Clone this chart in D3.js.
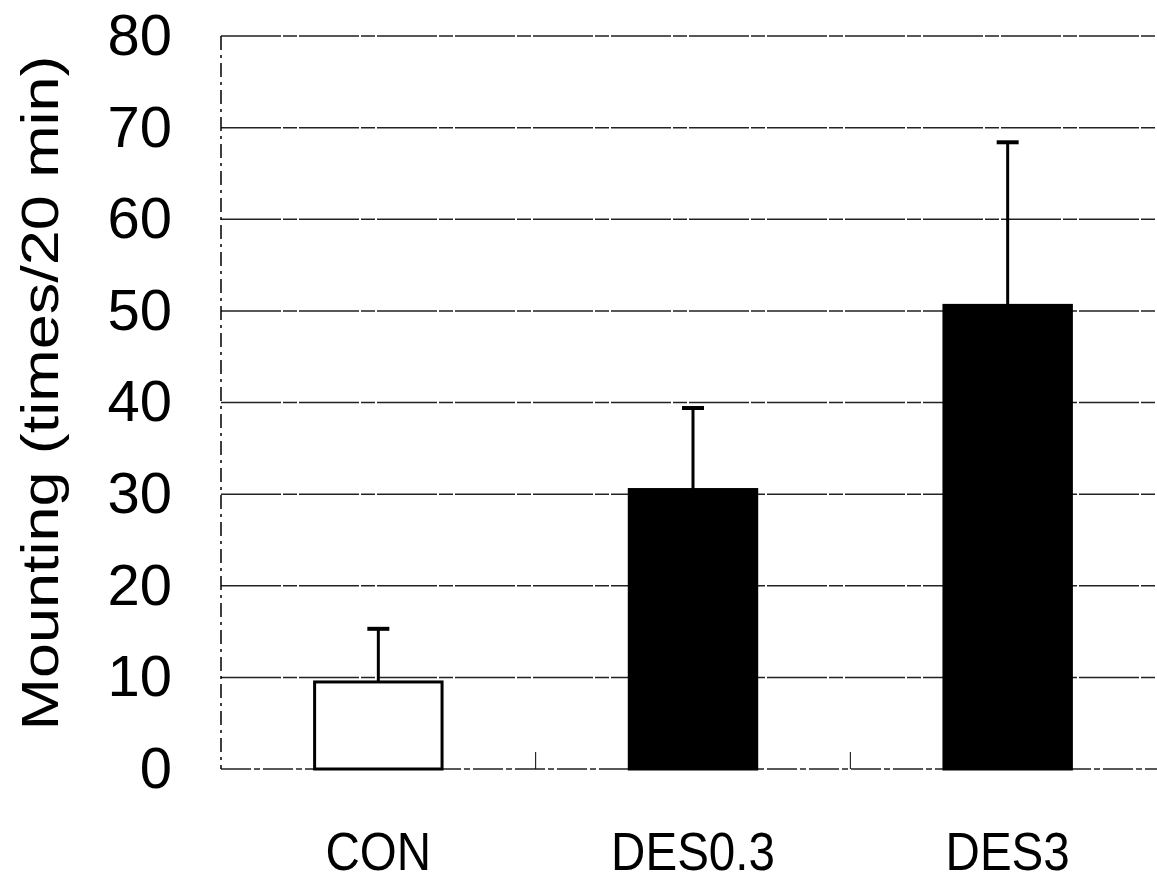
<!DOCTYPE html>
<html>
<head>
<meta charset="utf-8">
<script src="https://cdn.jsdelivr.net/npm/d3@7/dist/d3.min.js"></script>
<style>
  html, body { margin: 0; padding: 0; background: #fff; }
  svg { display: block; }
</style>
</head>
<body>
<svg id="chart" width="1157" height="883"></svg>
<script>
// Mounting frequency per treatment group (mean and mean + SEM)
const categories = ["CON", "DES0.3", "DES3"];
const means = [9.5, 30.5, 50.6];
const errorTops = [15.3, 39.4, 68.4];
const barFills = ["#ffffff", "#000000", "#000000"];
const yTicks = [0, 10, 20, 30, 40, 50, 60, 70, 80];
const yTitle = "Mounting (times/20 min)";

const svg = d3.select("#chart");
const plotLeft = 221, plotRight = 1165, plotTop = 36, plotBottom = 769;

const x = d3.scaleBand().domain(categories).range([plotLeft, plotRight]).padding(0);
const y = d3.scaleLinear().domain([0, 80]).range([plotBottom, plotTop]);

const barW = x.bandwidth() * 0.405;
const font = "'Liberation Sans', Arial, sans-serif";

// horizontal gridlines
svg.append("g")
  .selectAll("line")
  .data(yTicks)
  .join("line")
  .attr("x1", plotLeft).attr("x2", plotRight)
  .attr("y1", d => y(d)).attr("y2", d => y(d))
  .attr("stroke", "#222")
  .attr("stroke-width", 1.5)
  .attr("stroke-dasharray", d => d === 0 ? "30,3,6,3" : "60,2,14,2");

// left axis line (dash-dot)
svg.append("line")
  .attr("x1", plotLeft).attr("x2", plotLeft)
  .attr("y1", y(80)).attr("y2", y(0))
  .attr("stroke", "#000")
  .attr("stroke-width", 1.5)
  .attr("stroke-dasharray", "14,5,3,5");

// small category separator ticks on the baseline
svg.append("g")
  .selectAll("line")
  .data(categories.slice(1))
  .join("line")
  .attr("x1", d => x(d)).attr("x2", d => x(d))
  .attr("y1", y(0) - 17).attr("y2", y(0))
  .attr("stroke", "#000")
  .attr("stroke-width", 1);

// y tick labels
svg.append("g")
  .selectAll("text")
  .data(yTicks)
  .join("text")
  .attr("x", 172)
  .attr("y", d => y(d) - 2)
  .attr("dy", "0.36em")
  .attr("text-anchor", "end")
  .attr("font-family", font)
  .attr("font-size", 58)
  .attr("fill", "#000")
  .text(d => d);

// y axis title
svg.append("text")
  .attr("transform", `translate(58, 393) rotate(-90)`)
  .attr("text-anchor", "middle")
  .attr("font-family", font)
  .attr("font-size", 52)
  .attr("textLength", 675)
  .attr("lengthAdjust", "spacingAndGlyphs")
  .attr("fill", "#000")
  .text(yTitle);

// x category labels (slightly condensed face)
svg.append("g")
  .selectAll("text")
  .data(categories)
  .join("text")
  .attr("transform", d => `translate(${x(d) + x.bandwidth() / 2}, 870) scale(0.88, 1)`)
  .attr("text-anchor", "middle")
  .attr("font-family", font)
  .attr("font-size", 54)
  .attr("fill", "#000")
  .text(d => d);

const groups = categories.map((c, i) => ({ c, m: means[i], e: errorTops[i], f: barFills[i] }));

// error bars
const eb = svg.append("g");
eb.selectAll("line.stem")
  .data(groups)
  .join("line")
  .attr("class", "stem")
  .attr("x1", d => x(d.c) + x.bandwidth() / 2)
  .attr("x2", d => x(d.c) + x.bandwidth() / 2)
  .attr("y1", d => y(d.m))
  .attr("y2", d => y(d.e))
  .attr("stroke", "#000")
  .attr("stroke-width", 3);
eb.selectAll("line.cap")
  .data(groups)
  .join("line")
  .attr("class", "cap")
  .attr("x1", d => x(d.c) + x.bandwidth() / 2 - 11)
  .attr("x2", d => x(d.c) + x.bandwidth() / 2 + 11)
  .attr("y1", d => y(d.e))
  .attr("y2", d => y(d.e))
  .attr("stroke", "#000")
  .attr("stroke-width", 4);

// bars
svg.append("g")
  .selectAll("rect")
  .data(groups)
  .join("rect")
  .attr("x", d => x(d.c) + (x.bandwidth() - barW) / 2)
  .attr("y", d => y(d.m))
  .attr("width", barW)
  .attr("height", d => y(0) - y(d.m))
  .attr("fill", d => d.f)
  .attr("stroke", "#000")
  .attr("stroke-width", 3);
</script>
</body>
</html>
